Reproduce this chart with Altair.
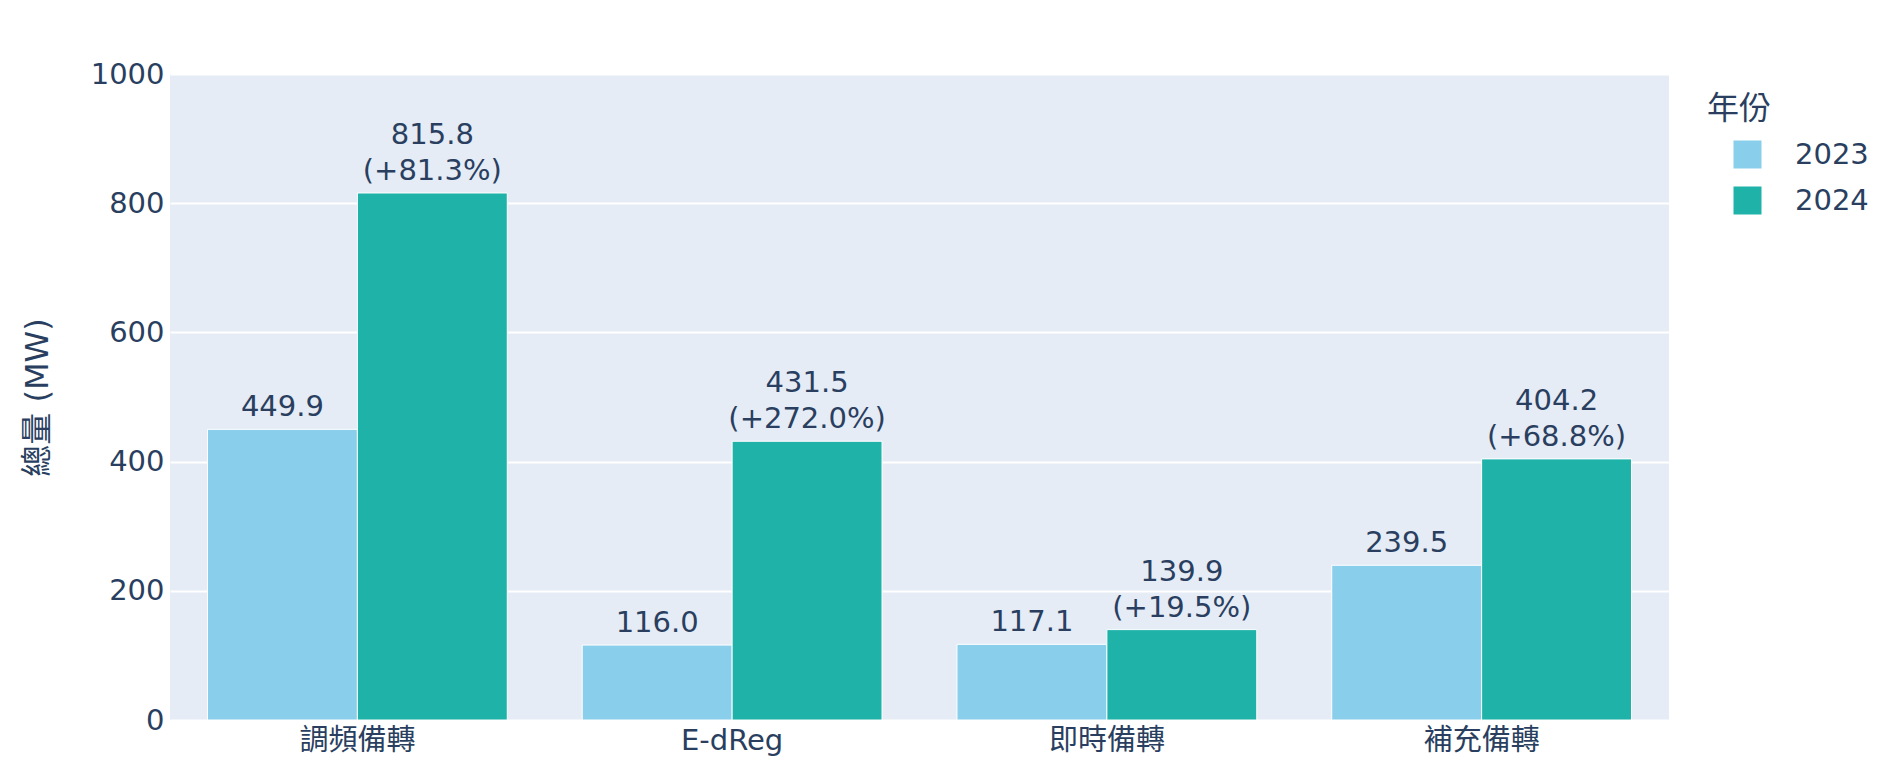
import altair as alt
import pandas as pd

categories = ["調頻備轉", "E-dReg", "即時備轉", "補充備轉"]
years = ["2023", "2024"]
values_2023 = [449.9, 116.0, 117.1, 239.5]
values_2024 = [815.8, 431.5, 139.9, 404.2]
colors = ["#89CEEB", "#1EB2A8"]

rows = []
for c, v23, v24 in zip(categories, values_2023, values_2024):
    pct = (v24 / v23 - 1) * 100
    rows.append({"cat": c, "year": "2023", "value": v23, "vlabel": f"{v23:.1f}", "plabel": ""})
    rows.append({"cat": c, "year": "2024", "value": v24, "vlabel": f"{v24:.1f}",
                 "plabel": f"({pct:+.1f}%)"})
df = pd.DataFrame(rows)

FONT = "DejaVu Sans, Noto Sans CJK TC, sans-serif"
TXT = "#2a3f5f"

x = alt.X("cat:N", sort=categories, title=None,
          scale=alt.Scale(paddingInner=0.2, paddingOuter=0.1),
          axis=alt.Axis(labelAngle=0, labelFontSize=29, labelColor=TXT, labelFont=FONT,
                        ticks=False, domain=False, labelPadding=6, grid=False))
xo = alt.XOffset("year:N", sort=years)
y = alt.Y("value:Q", title="總量 (MW)",
          scale=alt.Scale(domain=[0, 1000], nice=False),
          axis=alt.Axis(values=[0, 200, 400, 600, 800, 1000], format="d", labelFontSize=29,
                        labelColor=TXT, labelFont=FONT, ticks=False, domain=False,
                        labelPadding=6, gridColor="white", gridWidth=2,
                        titleFontSize=32, titleFontWeight="normal", titleColor=TXT,
                        titleFont=FONT, titleX=-133, titleY=323, titleAngle=-90,
                        titleAlign="center", titleBaseline="middle"))

bars = alt.Chart(df).mark_bar(stroke="white", strokeWidth=1).encode(
    x=x, xOffset=xo, y=y,
    color=alt.Color("year:N", sort=years, scale=alt.Scale(domain=years, range=colors),
                    legend=alt.Legend(title="年份", orient="none", legendX=1537, legendY=20,
                                      titleFontSize=32, titleFontWeight="normal",
                                      titleColor=TXT, titleFont=FONT,
                                      labelFontSize=29, labelColor=TXT, labelFont=FONT,
                                      symbolType="square", symbolSize=784,
                                      symbolStrokeWidth=0, symbolOffset=26,
                                      labelOffset=33, rowPadding=16, titlePadding=14,
                                      padding=0))
)

text_common = dict(baseline="bottom", fontSize=29, font=FONT, color=TXT)

t23 = alt.Chart(df).transform_filter(alt.datum.year == "2023").mark_text(
    dy=-7, **text_common).encode(x=x, xOffset=xo, y=y, text="vlabel:N")
t24v = alt.Chart(df).transform_filter(alt.datum.year == "2024").mark_text(
    dy=-43, **text_common).encode(x=x, xOffset=xo, y=y, text="vlabel:N")
t24p = alt.Chart(df).transform_filter(alt.datum.year == "2024").mark_text(
    dy=-7, **text_common).encode(x=x, xOffset=xo, y=y, text="plabel:N")

chart = alt.layer(bars, t23, t24v, t24p).properties(
    width=1499, height=646,
    padding={"left": 162, "top": 66, "right": 200, "bottom": 40},
    autosize=alt.AutoSizeParams(type="none"),
    background="white",
).configure_view(fill="#E5ECF6", stroke=None)

chart.save("out.html", embed_options={"renderer": "svg", "actions": False})
